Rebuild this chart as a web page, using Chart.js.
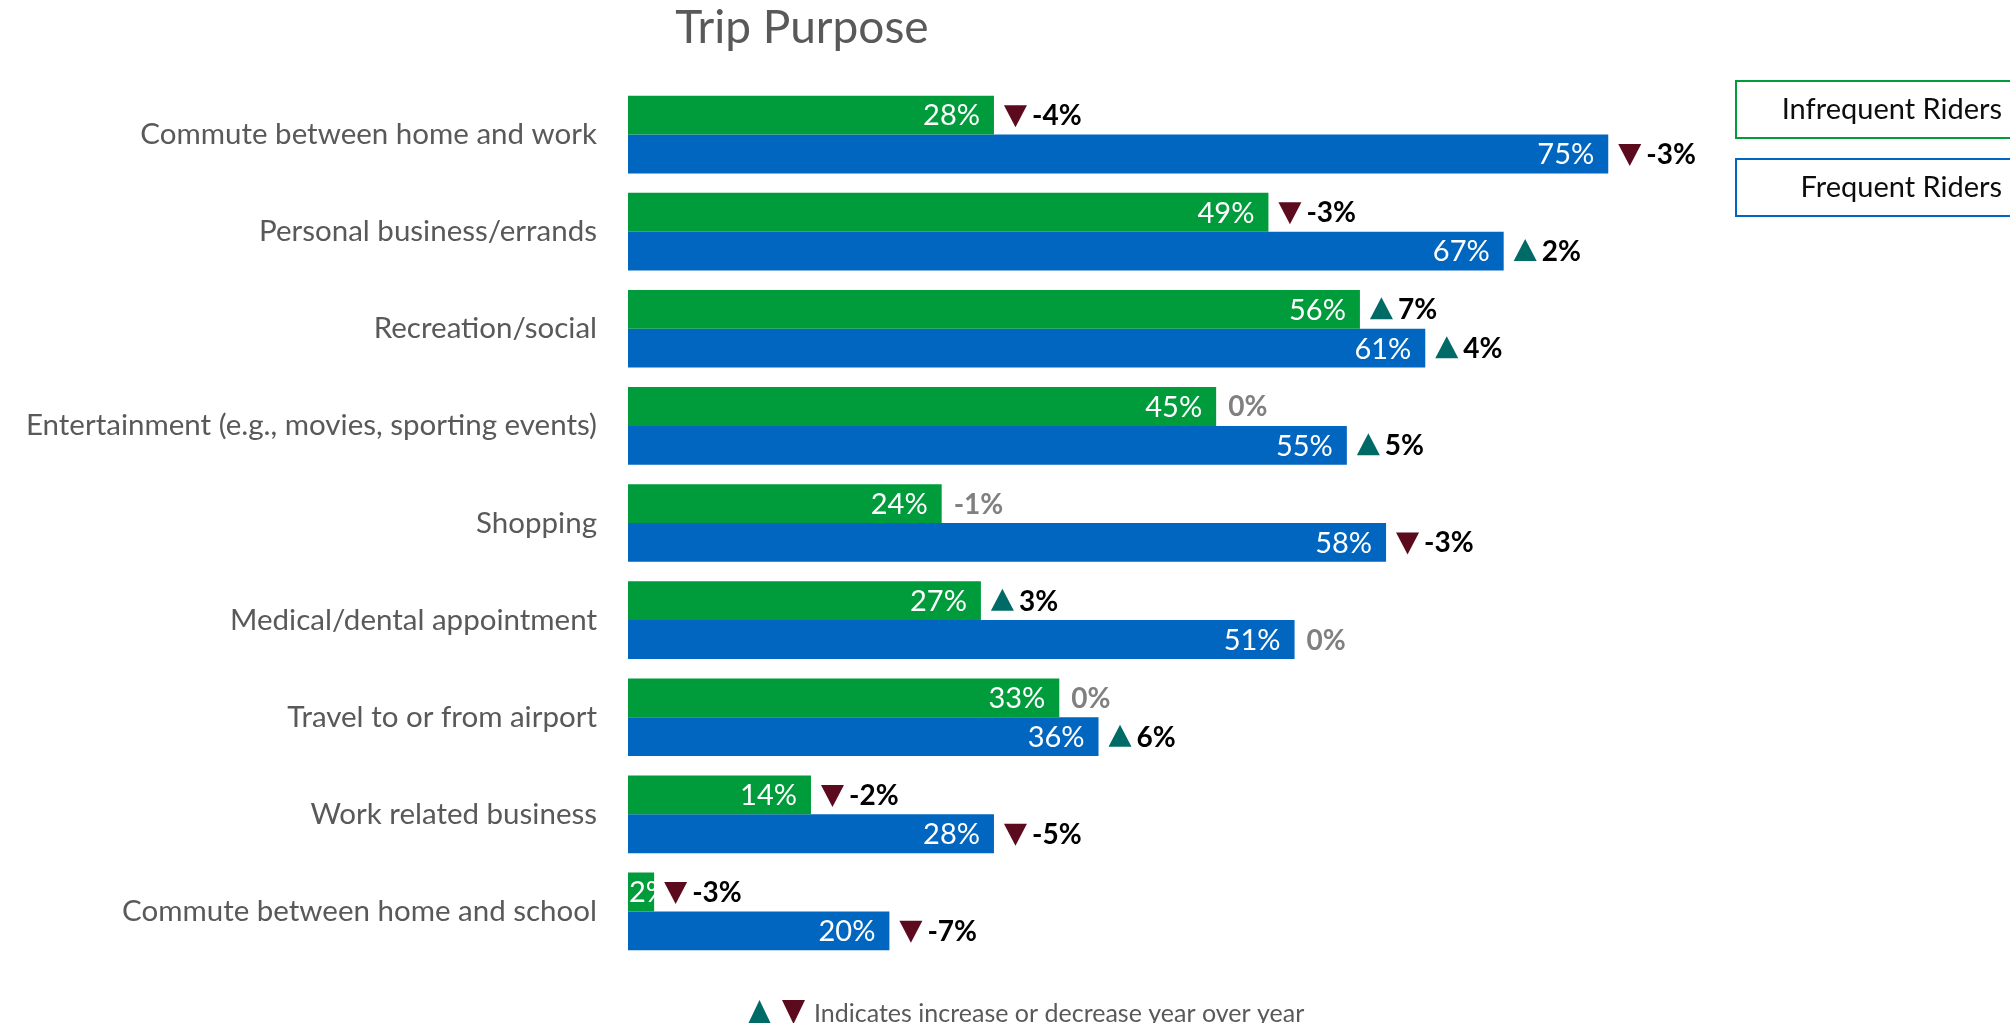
<!DOCTYPE html>
<html>
<head>
<meta charset="utf-8">
<title>Trip Purpose</title>
<script src="https://cdn.jsdelivr.net/npm/chart.js@4/dist/chart.umd.min.js"></script>
<style>
  html, body { margin: 0; padding: 0; background: #ffffff; overflow: hidden; }
  #wrap { width: 2010px; height: 1023px; position: relative; }
</style>
</head>
<body>
<div id="wrap"><canvas id="chart" width="2010" height="1023"></canvas></div>
<script>
// Trip purpose shares by rider group, with year-over-year change
const categories = [
  'Commute between home and work',
  'Personal business/errands',
  'Recreation/social',
  'Entertainment (e.g., movies, sporting events)',
  'Shopping',
  'Medical/dental appointment',
  'Travel to or from airport',
  'Work related business',
  'Commute between home and school'
];
const infrequent = [28, 49, 56, 45, 24, 27, 33, 14, 2];
const frequent = [75, 67, 61, 55, 58, 51, 36, 28, 20];
const infrequentChange = [-4, -3, 7, 0, -1, 3, 0, -2, -3];
const frequentChange = [-3, 2, 4, 5, -3, 0, 6, -5, -7];
// 'up' / 'down' marks a flagged shift; '' means shown in grey without a marker
const infrequentTrend = ['down', 'down', 'up', '', '', 'up', '', 'down', 'down'];
const frequentTrend = ['down', 'up', 'up', 'up', 'down', '', 'up', 'down', 'down'];
const seriesNames = ['Infrequent Riders', 'Frequent Riders'];

const GREEN = '#009B3A';
const BLUE = '#0066C0';
const UP = '#006B66';
const DOWN = '#5C0A1E';
const FONT = 'Lato, "Open Sans", sans-serif';

function drawTriangle(ctx, x, y, dir, w, h) {
  ctx.beginPath();
  if (dir === 'up') {
    ctx.moveTo(x, y + h / 2 - 1);
    ctx.lineTo(x + w, y + h / 2 - 1);
    ctx.lineTo(x + w / 2, y - h / 2 - 1);
    ctx.fillStyle = UP;
  } else {
    ctx.moveTo(x, y - h / 2 + 1);
    ctx.lineTo(x + w, y - h / 2 + 1);
    ctx.lineTo(x + w / 2, y + h / 2 + 1);
    ctx.fillStyle = DOWN;
  }
  ctx.closePath();
  ctx.fill();
}

// Value labels inside bars plus change markers after each bar
const barLabels = {
  id: 'barLabels',
  afterDatasetsDraw(chart) {
    const ctx = chart.ctx;
    const changes = [infrequentChange, frequentChange];
    const trends = [infrequentTrend, frequentTrend];
    ctx.save();
    chart.data.datasets.forEach((ds, di) => {
      const meta = chart.getDatasetMeta(di);
      meta.data.forEach((bar, i) => {
        const v = ds.data[i];
        const txt = v + '%';
        ctx.font = '29px ' + FONT;
        ctx.fillStyle = '#ffffff';
        ctx.textBaseline = 'middle';
        const tw = ctx.measureText(txt).width;
        if (bar.x - 14 - tw < bar.base + 1) {
          ctx.textAlign = 'left';
          ctx.fillText(txt, bar.base + 1, bar.y + 1);
        } else {
          ctx.textAlign = 'right';
          ctx.fillText(txt, bar.x - 14, bar.y + 1);
        }

        const ch = changes[di][i];
        const tr = trends[di][i];
        const chTxt = ch + '%';
        ctx.font = 'bold 28px ' + FONT;
        ctx.textAlign = 'left';
        if (tr) {
          const tx = bar.x + 10;
          drawTriangle(ctx, tx, bar.y, tr, 23, 22);
          ctx.fillStyle = '#000000';
          ctx.fillText(chTxt, tx + 23 + 5, bar.y + 1);
        } else {
          ctx.fillStyle = '#808080';
          ctx.fillText(chTxt, bar.x + 12, bar.y + 1);
        }
      });
    });
    ctx.restore();
  }
};

// Title, series boxes and footnote
const decorations = {
  id: 'decorations',
  afterDraw(chart) {
    const ctx = chart.ctx;
    ctx.save();
    ctx.fillStyle = '#595959';
    ctx.font = '46px ' + FONT;
    ctx.textAlign = 'center';
    ctx.textBaseline = 'alphabetic';
    ctx.fillText('Trip Purpose', 802, 43);

    const boxes = [
      { y: 81, color: GREEN, label: seriesNames[0] },
      { y: 159, color: BLUE, label: seriesNames[1] }
    ];
    boxes.forEach(b => {
      ctx.strokeStyle = b.color;
      ctx.lineWidth = 2;
      ctx.strokeRect(1736, b.y, 290, 57);
      ctx.fillStyle = '#0d0d0d';
      ctx.font = '29px ' + FONT;
      ctx.textAlign = 'right';
      ctx.textBaseline = 'middle';
      ctx.fillText(b.label, 2002, b.y + 29);
    });

    drawTriangle(ctx, 748, 1013, 'up', 23, 24);
    drawTriangle(ctx, 782, 1011, 'down', 23, 24);
    ctx.fillStyle = '#595959';
    ctx.font = '25px ' + FONT;
    ctx.textAlign = 'left';
    ctx.textBaseline = 'alphabetic';
    ctx.fillText('Indicates increase or decrease year over year', 814, 1022);
    ctx.restore();
  }
};

new Chart(document.getElementById('chart'), {
  type: 'bar',
  data: {
    labels: categories,
    datasets: [
      { label: seriesNames[0], data: infrequent, backgroundColor: GREEN, borderWidth: 0 },
      { label: seriesNames[1], data: frequent, backgroundColor: BLUE, borderWidth: 0 }
    ]
  },
  options: {
    indexAxis: 'y',
    responsive: false,
    animation: false,
    events: [],
    categoryPercentage: 0.8,
    barPercentage: 1.0,
    layout: { padding: { left: 0, right: 75, top: 86, bottom: 63 } },
    plugins: {
      legend: { display: false },
      title: { display: false },
      tooltip: { enabled: false }
    },
    scales: {
      x: { display: false, min: 0, max: 100 },
      y: {
        grid: { display: false, drawTicks: false },
        border: { display: false },
        ticks: {
          color: '#595959',
          font: { family: FONT, size: 29.5 },
          padding: 31
        },
        afterFit(scale) { scale.width = 628; }
      }
    }
  },
  plugins: [barLabels, decorations]
});
</script>
</body>
</html>
